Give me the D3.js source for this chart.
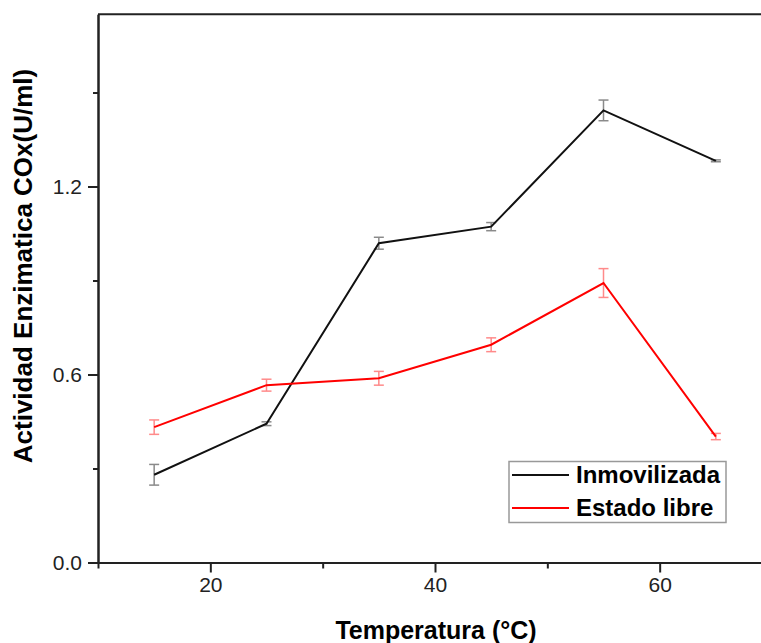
<!DOCTYPE html>
<html>
<head>
<meta charset="utf-8">
<script src="https://cdn.jsdelivr.net/npm/d3@7"></script>
<style>
  body { margin: 0; background: #fff; }
  text { font-family: "Liberation Sans", Arial, sans-serif; }
</style>
</head>
<body>
<div id="chart"></div>
<script>
// data
var temps = [15, 25, 35, 45, 55, 65];
var inmovilizada = [0.280, 0.443, 1.019, 1.072, 1.443, 1.282];
var inmovilizadaErr = [0.033, 0.006, 0.019, 0.013, 0.033, 0.003];
var libre = [0.432, 0.566, 0.588, 0.695, 0.892, 0.402];
var libreErr = [0.023, 0.019, 0.022, 0.022, 0.046, 0.010];
var xMajor = [20, 40, 60];
var xMinor = [10, 30, 50, 70];
var yMajor = [0.0, 0.6, 1.2];
var yMinor = [0.3, 0.9, 1.5];
var seriesNames = ["Inmovilizada", "Estado libre"];

var width = 761, height = 643;

var svg = d3.select("#chart")
  .append("svg")
  .attr("width", width)
  .attr("height", height);

var x = d3.scaleLinear().domain([10, 70]).range([98, 772]);
var y = d3.scaleLinear().domain([0, 1.75]).range([562.5, 14.2]);

// top frame line
svg.append("line")
  .attr("x1", x(10)).attr("x2", x(70))
  .attr("y1", y(1.75)).attr("y2", y(1.75))
  .attr("stroke", "#222").attr("stroke-width", 2);

// X axis
var xAxisG = svg.append("g")
  .attr("transform", "translate(0," + y(0) + ")");
xAxisG.append("g")
  .call(d3.axisBottom(x).tickValues(xMinor).tickSize(6).tickSizeOuter(0).tickFormat(""));
xAxisG.append("g")
  .call(d3.axisBottom(x).tickValues(xMajor).tickSize(10).tickSizeOuter(0).tickPadding(5).tickFormat(d3.format("d")));

// Y axis
var yAxisG = svg.append("g")
  .attr("transform", "translate(" + x(10) + ",0)");
yAxisG.append("g")
  .call(d3.axisLeft(y).tickValues(yMinor).tickSize(5).tickSizeOuter(0).tickFormat(""));
yAxisG.append("g")
  .call(d3.axisLeft(y).tickValues(yMajor).tickSize(10).tickSizeOuter(0).tickPadding(6).tickFormat(d3.format(".1f")));

svg.selectAll(".domain, .tick line")
  .attr("stroke", "#222")
  .attr("stroke-width", 2);
svg.selectAll(".tick text")
  .attr("fill", "#222")
  .style("font-size", "21px")
  .style("font-family", "Liberation Sans, Arial, sans-serif");

// axis titles
svg.append("text")
  .attr("x", 436)
  .attr("y", 639)
  .attr("text-anchor", "middle")
  .style("font-size", "25px")
  .style("font-weight", "bold")
  .text("Temperatura (°C)");

svg.append("text")
  .attr("transform", "translate(32,266) rotate(-90)")
  .attr("text-anchor", "middle")
  .style("font-size", "26px")
  .style("font-weight", "bold")
  .text("Actividad Enzimatica COx(U/ml)");

// series
var series = [
  { name: seriesNames[0], values: inmovilizada, err: inmovilizadaErr, color: "#111", errColor: "#8a8a8a" },
  { name: seriesNames[1], values: libre, err: libreErr, color: "#ff0000", errColor: "#ff8a8a" }
];

var line = d3.line()
  .x((d, i) => x(temps[i]))
  .y(d => y(d));

series.forEach(function (s) {
  var g = svg.append("g");
  var bars = g.selectAll("g.err")
    .data(s.values)
    .join("g")
    .attr("class", "err")
    .attr("stroke", s.errColor)
    .attr("stroke-width", 1.5);
  bars.append("line")
    .attr("x1", (d, i) => x(temps[i])).attr("x2", (d, i) => x(temps[i]))
    .attr("y1", (d, i) => y(d - s.err[i])).attr("y2", (d, i) => y(d + s.err[i]));
  bars.append("line")
    .attr("x1", (d, i) => x(temps[i]) - 5).attr("x2", (d, i) => x(temps[i]) + 5)
    .attr("y1", (d, i) => y(d - s.err[i])).attr("y2", (d, i) => y(d - s.err[i]));
  bars.append("line")
    .attr("x1", (d, i) => x(temps[i]) - 5).attr("x2", (d, i) => x(temps[i]) + 5)
    .attr("y1", (d, i) => y(d + s.err[i])).attr("y2", (d, i) => y(d + s.err[i]));

  g.append("path")
    .datum(s.values)
    .attr("d", line)
    .attr("fill", "none")
    .attr("stroke", s.color)
    .attr("stroke-width", 2);
});

// legend
var legend = svg.append("g");
legend.append("rect")
  .attr("x", 509).attr("y", 461.5)
  .attr("width", 217).attr("height", 61)
  .attr("fill", "#fff")
  .attr("stroke", "#999")
  .attr("stroke-width", 1.5);
series.forEach(function (s, i) {
  var ly = 475 + i * 33;
  legend.append("line")
    .attr("x1", 512).attr("x2", 569)
    .attr("y1", ly).attr("y2", ly)
    .attr("stroke", s.color).attr("stroke-width", 2);
  legend.append("text")
    .attr("x", 576).attr("y", ly + 8)
    .style("font-size", "24px")
    .style("font-weight", "bold")
    .text(s.name);
});
</script>
</body>
</html>
